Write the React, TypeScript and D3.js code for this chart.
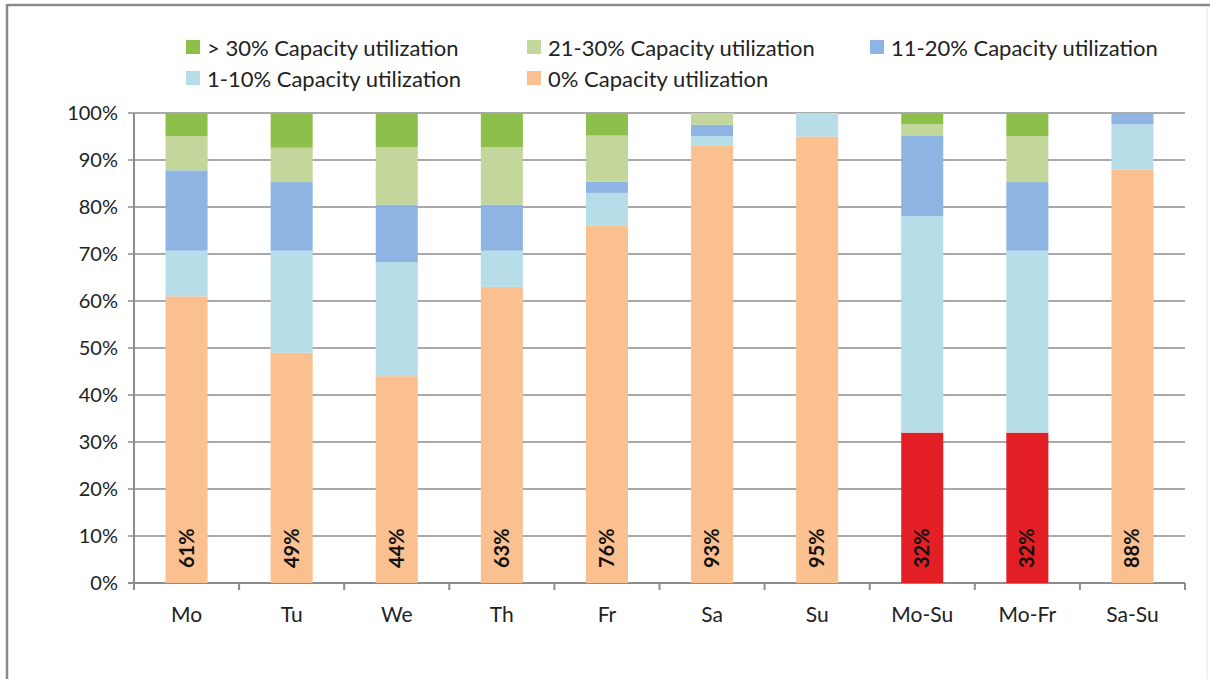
import React from "react";
import * as d3 from "d3";

// Share of vehicles per capacity-utilization class, by day / day group (%)
const categories = ["Mo", "Tu", "We", "Th", "Fr", "Sa", "Su", "Mo-Su", "Mo-Fr", "Sa-Su"];
const util0 = [61, 49, 44, 63, 76, 93, 95, 32, 32, 88];
const util1to10 = [9.7, 21.7, 24.3, 7.7, 7.0, 2.1, 5.0, 46.1, 38.7, 9.6];
const util11to20 = [17.1, 14.6, 12.2, 9.8, 2.4, 2.4, 0, 17.0, 14.6, 2.4];
const util21to30 = [7.3, 7.3, 12.2, 12.2, 9.8, 2.5, 0, 2.5, 9.8, 0];
const utilOver30 = [4.9, 7.4, 7.3, 7.3, 4.8, 0, 0, 2.4, 4.9, 0];
const highlighted = ["Mo-Su", "Mo-Fr"];
const yTicks = [0, 10, 20, 30, 40, 50, 60, 70, 80, 90, 100];

const seriesDefs = [
  { key: "u0", label: "0% Capacity utilization", color: "#fac090", values: util0 },
  { key: "u1", label: "1-10% Capacity utilization", color: "#b7dde8", values: util1to10 },
  { key: "u11", label: "11-20% Capacity utilization", color: "#8eb4e3", values: util11to20 },
  { key: "u21", label: "21-30% Capacity utilization", color: "#c3d69b", values: util21to30 },
  { key: "u30", label: "> 30% Capacity utilization", color: "#8dc04b", values: utilOver30 },
];

const legendOrder = [
  { key: "u30", col: 0, row: 0 },
  { key: "u21", col: 1, row: 0 },
  { key: "u11", col: 2, row: 0 },
  { key: "u1", col: 0, row: 1 },
  { key: "u0", col: 1, row: 1 },
];

const W = 1210;
const H = 679;
const margin = { left: 134, right: 25, top: 113, bottom: 96 };
const FONT = "Lato, 'DejaVu Sans', sans-serif";
const GRID = "#8c8c8c";

export default function App() {
  const table = categories.map((c, i) => {
    const row: Record<string, any> = { cat: c };
    seriesDefs.forEach((s) => (row[s.key] = s.values[i]));
    return row;
  });
  const stack = d3.stack<any>().keys(seriesDefs.map((s) => s.key));
  const layers = stack(table);

  const x = d3
    .scaleBand()
    .domain(categories)
    .range([margin.left, W - margin.right])
    .paddingInner(0.6)
    .paddingOuter(0.3);
  const y = d3.scaleLinear().domain([0, 100]).range([H - margin.bottom, margin.top]);
  const step = x.step();
  const x0 = margin.left;
  const x1 = W - margin.right;
  const legendX = [186, 527, 870];
  const legendY = [48, 79];

  return (
    <svg
      width={W}
      height={H}
      style={{ position: "absolute", left: 0, top: 0, background: "#fff" }}
      fontFamily={FONT}
    >
      {/* frame */}
      <line x1={7} y1={5} x2={W} y2={5} stroke="#8a8a8a" strokeWidth={2.5} />
      <line x1={7} y1={4} x2={7} y2={H} stroke="#8a8a8a" strokeWidth={2.5} />
      <line x1={1207} y1={6} x2={1207} y2={H} stroke="#e4e4e4" strokeWidth={1} />

      {/* gridlines */}
      {yTicks.map((t) => (
        <g key={t}>
          <line x1={x0 - 6} x2={x1} y1={y(t)} y2={y(t)} stroke={GRID} strokeWidth={t === 0 ? 2 : 1.6} />
          <text x={118} y={y(t)} dy="0.35em" textAnchor="end" fontSize={20} fill="#222">
            {t}%
          </text>
        </g>
      ))}
      <line x1={x0} x2={x0} y1={y(100)} y2={y(0)} stroke={GRID} strokeWidth={2} />
      {d3.range(categories.length + 1).map((i) => (
        <line key={i} x1={x0 + i * step} x2={x0 + i * step} y1={y(0)} y2={y(0) + 7} stroke={GRID} strokeWidth={2} />
      ))}

      {/* stacked bars */}
      {layers.map((layer, li) => {
        const def = seriesDefs[li];
        return (
          <g key={def.key}>
            {layer.map((d, i) => {
              const h = y(d[0]) - y(d[1]);
              if (h <= 0) return null;
              const cat = categories[i];
              const fill = def.key === "u0" && highlighted.includes(cat) ? "#e31e24" : def.color;
              return (
                <rect key={cat} x={x(cat)} y={y(d[1])} width={x.bandwidth()} height={h} fill={fill} />
              );
            })}
          </g>
        );
      })}

      {/* value labels of the 0% class */}
      {categories.map((c, i) => {
        const cx = (x(c) as number) + x.bandwidth() / 2;
        const by = y(0) - 15;
        return (
          <text
            key={c}
            transform={`translate(${cx + 7},${by}) rotate(-90)`}
            fontSize={20}
            fontWeight="bold"
            fill="#111"
          >
            {util0[i]}%
          </text>
        );
      })}

      {/* category labels */}
      {categories.map((c) => (
        <text
          key={c}
          x={(x(c) as number) + x.bandwidth() / 2}
          y={622}
          textAnchor="middle"
          fontSize={21}
          fill="#222"
        >
          {c}
        </text>
      ))}

      {/* legend */}
      {legendOrder.map((l) => {
        const def = seriesDefs.find((s) => s.key === l.key)!;
        const lx = legendX[l.col];
        const ly = legendY[l.row];
        return (
          <g key={l.key}>
            <rect x={lx} y={ly - 8} width={14} height={14} fill={def.color} />
            <text x={lx + 21} y={ly} dy="0.35em" fontSize={22} fill="#222">
              {def.label}
            </text>
          </g>
        );
      })}
    </svg>
  );
}
